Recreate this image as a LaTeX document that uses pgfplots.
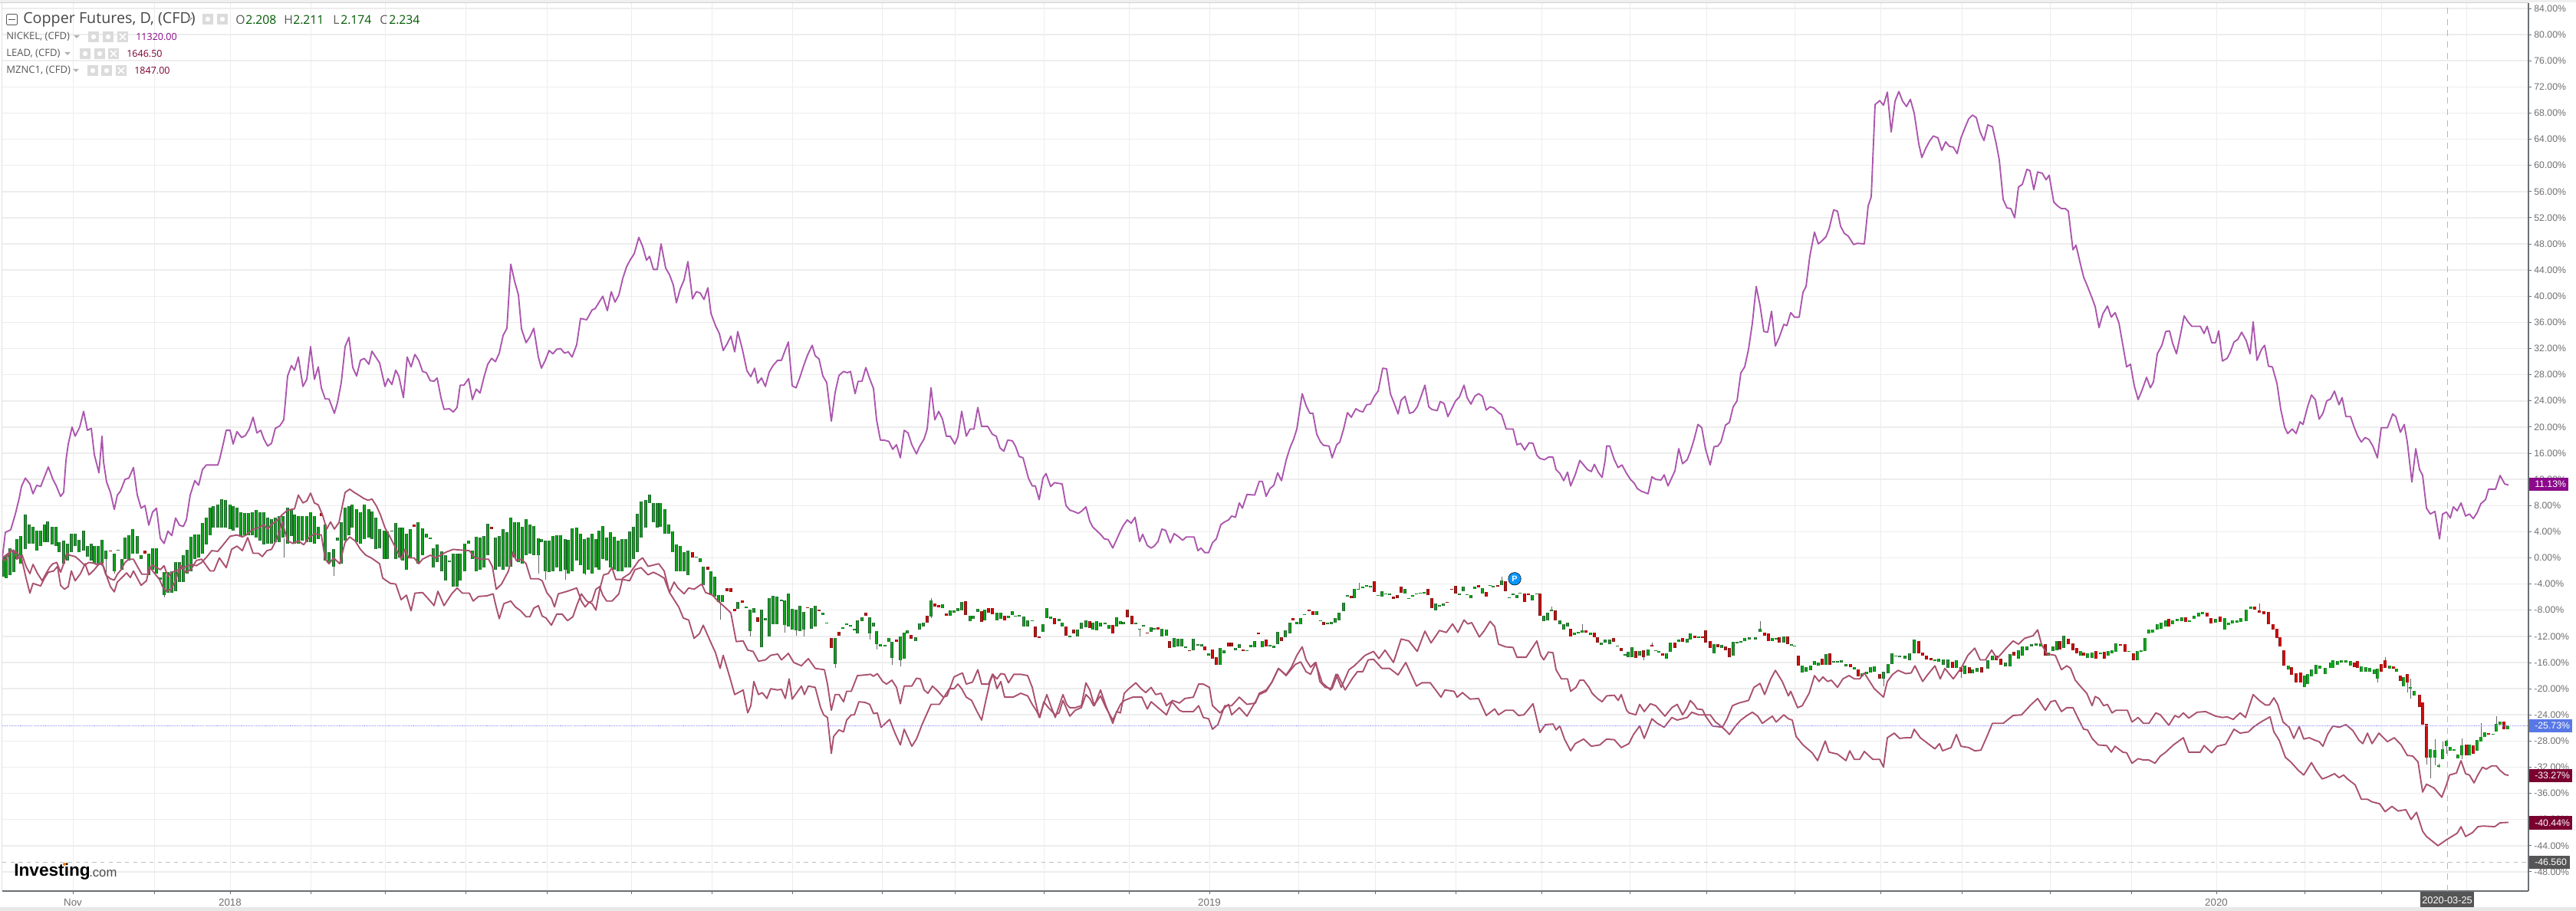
\documentclass[border=0pt]{standalone}
\usepackage{fontspec}
\setmainfont{Liberation Sans}
\newfontfamily\osans{Open Sans}
\usepackage{pgfplots}
\usepackage{pgfplotstable}
\pgfplotsset{compat=1.18}
\definecolor{cnick}{HTML}{AB56AD}
\definecolor{cmar}{HTML}{A9506F}
\definecolor{cgrid}{HTML}{EDEDED}
\definecolor{cgreen}{HTML}{12A51C}
\definecolor{cgreend}{HTML}{1E5F2C}
\definecolor{cred}{HTML}{CC0F0F}
\definecolor{credd}{HTML}{7A1212}
\definecolor{ctick}{HTML}{707070}
\definecolor{cline}{HTML}{6B6F73}
\definecolor{cpin}{HTML}{0A96FF}
\pgfplotstableread{
x y
3 0
7 3.9
14 4.3
20 6.7
25 9.1
28 10.9
33 12.2
39 11.3
43 9.8
48 11.1
53 10.9
58 12.4
63 13.9
69 12
73 11.1
79 9.4
83 10
86 14.9
89 17.4
94 20
98 18.6
104 20
109 22.4
114 19.5
119 19.8
123 15.8
129 13
133 18.6
135 14.7
139 11.6
144 10
149 7.4
153 9.6
157 10.2
163 12
168 12.2
174 13.8
179 9.6
184 7.6
189 8
194 5
199 7
204 7.6
209 3
214 2.2
219 4.1
224 3.4
229 6.1
234 5
239 4.8
243 5.8
248 9.6
254 11.8
259 11.1
264 13.5
269 14.2
284 14.2
286 14.9
291 17.4
295 19.5
300 19.5
304 17.4
309 19.3
315 18.4
320 18.7
325 19.7
330 21.5
335 19.1
340 19.5
344 18.2
349 17.1
354 17.5
359 19.8
365 20.2
370 21.1
375 27.8
380 29.4
384 28.7
389 30.7
395 26.2
400 27.3
405 32.3
410 27.3
415 29.2
419 26
424 24.3
429 24.3
436 22.1
440 23.7
445 26.8
450 32.3
455 33.7
460 29.1
465 27.8
470 30.2
475 30.5
481 29.6
485 31.6
490 30.7
495 29.8
502 26.2
506 27.4
511 26.5
516 28.7
520 27.8
526 24.5
531 30.7
536 29.2
541 31.1
546 30.2
551 28.5
556 28.3
561 27.1
566 27
570 27.5
575 24.5
579 22.7
586 22.8
591 22.3
596 23
600 26.4
605 26.4
611 27.4
616 24.2
621 25.8
626 25.2
631 27.6
636 29.6
641 30.5
646 30
651 31.3
656 34
661 35.1
666 44.9
671 42.3
676 40.2
680 35
686 32.9
691 33.8
696 35.1
702 30.7
706 29
711 30.2
716 31.7
721 31.2
726 31.9
731 32
736 31.3
741 31.5
746 30.7
752 32.6
757 36.6
765 36.4
772 37.9
776 38.1
786 40
792 37.8
797 40.7
802 39.1
807 40.2
812 42.7
817 44.5
822 45.6
827 46.5
833 49
838 47.6
843 45.5
847 46.1
852 44.1
857 44.1
862 48
868 44.3
873 43.3
878 41.7
882 39
887 41.1
892 42.5
897 45.3
903 39.6
908 40.7
913 40.5
918 39.5
923 41.3
927 37.4
933 35.5
938 34.3
943 31.7
948 32.7
953 33.9
958 31.5
962 34.6
968 31.9
974 28.6
979 27.7
984 29
988 26.7
993 27.5
998 26.2
1003 28.4
1008 29.4
1014 30.2
1019 30.2
1023 31.5
1028 33
1033 26.3
1038 26
1043 27.6
1048 29.4
1053 31
1059 32.5
1063 30.9
1068 30.4
1073 27.8
1078 26.8
1084 20.9
1089 25.3
1094 27.9
1100 28.5
1105 28.3
1109 28.5
1115 25.1
1119 27
1124 27
1129 29.1
1134 27.4
1139 25.9
1143 21.1
1148 18
1153 18
1159 17.8
1164 16.6
1169 17.3
1174 15.3
1179 19.5
1184 19.1
1189 17.3
1195 15.9
1199 17
1205 18.2
1209 19.7
1214 26
1219 21.1
1224 22.4
1229 21.2
1234 18.6
1239 18.6
1245 17.4
1249 18.5
1254 22.4
1260 18.6
1265 19.7
1270 19.7
1275 23
1280 20.1
1288 20.1
1294 18.9
1299 18.6
1304 16.8
1309 16.3
1314 18
1320 17.9
1324 17.1
1329 15.5
1334 15.3
1341 12.2
1346 11
1350 11
1355 8.9
1360 12.2
1364 12.9
1370 10.9
1375 11.5
1385 11.3
1390 8
1395 7.3
1400 7.1
1406 6.8
1411 7.2
1416 7.8
1421 5.6
1425 4.7
1435 3.6
1440 2.9
1445 2.8
1451 1.5
1456 2.8
1461 4.1
1465 5
1470 5.8
1475 5.3
1480 6.2
1486 2.5
1490 3.6
1496 1.9
1501 1.5
1505 1.8
1510 2.5
1515 4.4
1520 4.2
1526 2.3
1531 3.7
1536 3.3
1542 2.7
1547 3.2
1557 3.2
1562 1.1
1566 1.5
1571 .8
1576 .8
1581 2.3
1586 2.9
1592 5.1
1597 5.5
1602 5.8
1606 6.4
1611 6.2
1616 8.4
1620 7.6
1626 9.7
1636 9.6
1642 11.7
1646 11.7
1651 9.4
1656 10.6
1661 11.1
1666 13
1671 11.8
1677 14.9
1682 16.8
1687 18.2
1691 19.7
1698 25.1
1703 23.3
1708 22.1
1712 22.1
1717 18.9
1722 17.7
1726 17.2
1733 17.1
1737 15.3
1743 17.3
1747 17.7
1752 19.7
1757 22.2
1762 21.5
1768 22.8
1772 22.5
1777 22.3
1782 23.4
1787 23.5
1792 24.7
1797 25.5
1803 29
1808 28.9
1813 25.1
1818 23.6
1823 22
1827 24.1
1832 24.7
1838 22.1
1843 22.3
1848 23.1
1853 24.7
1858 26.4
1863 23.1
1867 22.7
1874 22.5
1878 23.9
1883 23.6
1888 21.6
1893 22.8
1898 24
1903 24.6
1909 26.4
1913 24.5
1918 23.5
1923 24.7
1928 25.1
1933 24.7
1938 22.6
1943 23.1
1948 22.9
1954 22.2
1958 21.9
1964 19.7
1973 19.7
1978 17.3
1983 17.5
1988 16.5
1994 17.6
1999 17.5
2004 15.7
2008 15.2
2014 15
2019 15.4
2025 15.4
2029 13.5
2034 12.9
2039 11.8
2044 13.1
2048 11
2054 12.7
2060 14.9
2070 13.5
2075 13.2
2079 14.3
2084 13.1
2089 12.3
2093 14.9
2095 17.1
2099 17.1
2105 15
2110 13.8
2115 14.2
2121 12.9
2126 12
2131 11.4
2135 10.6
2140 10.2
2149 9.8
2154 12.4
2159 12
2166 11.9
2170 12.7
2175 11
2184 13.3
2189 16.7
2194 14.4
2200 15
2204 16.2
2209 18.1
2214 20.4
2219 19.9
2224 16.6
2230 14.2
2235 17
2240 17.1
2244 17.7
2250 20.3
2255 20.7
2260 23.1
2265 24
2270 28.3
2275 29.2
2280 31.9
2285 35.9
2290 41.5
2295 38.6
2300 34.6
2305 34.5
2310 37.7
2315 32.4
2320 33.7
2326 35.7
2330 35.5
2335 37.5
2340 36.8
2346 36.8
2351 40.6
2355 41.5
2360 46.2
2366 49.8
2371 48
2376 48.5
2381 49.1
2385 50.3
2391 53.2
2396 53
2400 50.7
2405 49.6
2410 49.2
2417 47.9
2422 48.1
2431 48
2436 53.8
2440 55.2
2445 69.3
2451 69.9
2456 69.2
2461 71.2
2466 65.1
2471 69.8
2476 71.3
2481 69.8
2486 69
2491 70.1
2496 68
2502 63.3
2506 61.2
2511 62.6
2516 63.7
2521 64.5
2527 64.2
2532 62.3
2537 63.6
2542 62.9
2547 62.8
2552 61.8
2557 64.2
2562 65.7
2567 67.1
2572 67.7
2577 67.3
2582 65.1
2587 63.8
2592 66.2
2598 65.9
2603 63.3
2607 60.8
2612 54.8
2617 53.5
2622 53.4
2627 52
2632 56.7
2637 57.1
2643 59.4
2647 59.2
2652 56.3
2657 59
2663 58.8
2668 57.8
2672 58.5
2678 54.4
2683 53.8
2688 53.4
2693 53.4
2697 53
2703 47.1
2707 47.8
2712 45.3
2717 42.9
2722 41.5
2728 39.7
2732 38.4
2737 35.2
2742 37.3
2748 38.5
2753 36.8
2758 37.5
2763 35.9
2769 31.9
2773 29.2
2778 29.6
2783 26.3
2788 24.2
2793 25.6
2799 27.6
2804 26
2808 26.9
2813 31.2
2819 32.5
2824 34.6
2829 34.7
2833 32.8
2838 31.2
2844 34.6
2848 37
2853 36.1
2858 35.4
2869 35.4
2874 34.3
2878 35.4
2884 32.9
2889 32.9
2893 34.7
2898 30.1
2904 30.5
2908 31.4
2913 33
2918 33.4
2923 34.5
2929 33.2
2934 31.2
2938 36.1
2943 30.2
2949 31.9
2953 32.5
2958 29.3
2963 29.2
2969 26.7
2974 22.7
2979 20
2983 19
2989 19.7
2994 19
2999 20.8
3003 20.4
3009 23.1
3014 24.9
3019 24.2
3024 21.2
3029 22.1
3034 24
3039 24.3
3044 25.5
3050 23.4
3054 24.5
3059 21.6
3065 21.6
3069 20.2
3074 18.7
3079 17.7
3084 18.4
3089 18.1
3094 17.1
3100 15.3
3105 19.9
3113 19.9
3120 22
3124 21.6
3130 19.2
3135 20.4
3139 17.7
3145 11.6
3150 16.7
3155 13.5
3159 12.6
3164 7.6
3169 6.7
3175 7.1
3181 2.9
3185 6.7
3190 7
3195 6.1
3199 7.8
3204 7.2
3209 8.4
3215 6.4
3220 6.7
3225 6
3230 6.9
3235 8.3
3241 8.9
3245 10.5
3254 10.5
3260 12.6
3266 11.3
3271 11.13
}\nickel
\pgfplotstableread{
x y
3 0
11 .7
18 1.2
22 -.2
29 .4
34 -1.3
39 -2.4
43 -1
49 -2.4
55 -3.5
60 -2.4
65 -1.4
69 -.9
74 -.7
79 -2.2
83 -.9
87 .7
91 .4
98 .2
104 -.4
110 -1.1
116 -.7
122 -.8
128 -1.1
133 -.7
138 -2.6
144 -3.2
149 -3.4
153 -2.5
158 -1.8
163 -.7
168 -.2
174 -.2
180 -1.5
185 -2.5
193 -2.5
198 -1.1
203 -1.4
209 -1.8
214 -1.2
219 -2.9
224 -2.2
229 -2
239 -1.5
250 -1
256 -1.2
263 -.7
270 .2
276 1.1
284 1
291 2
300 3.3
309 3.5
316 3.2
321 3.5
330 4.4
337 4.6
344 5.1
349 4.4
354 5.1
361 5.7
368 6.6
375 7.3
384 7.5
389 9.6
395 8.4
400 8.7
405 9.9
410 8.4
415 8.1
421 6.4
426 4.4
431 5.5
436 4.4
442 5.4
450 10
456 10.5
462 10
469 9.5
474 9.1
480 8.8
485 9
491 7.9
496 6.6
502 4.6
509 3.1
516 1.5
523 -.2
528 1.3
533 0
540 0
546 -.9
551 -.2
561 .4
568 0
582 .9
591 1.3
600 1.2
612 1.1
619 0
628 -.2
637 -.2
642 -1.3
647 -4.8
654 -4
663 -2
669 .9
673 -.4
680 -.2
686 -.9
692 -3.2
702 -3.2
707 -3.5
713 -5.3
719 -6.2
723 -7.5
728 -5.5
740 -5.1
752 -4.6
758 -6.6
763 -7.5
768 -6.8
772 -6.6
777 -4.8
782 -4.4
786 -5.7
791 -6.6
798 -6.6
807 -5.5
812 -3.1
821 -2.4
833 -.4
838 0
845 -1.3
852 -1.1
859 -.9
866 -2
873 -5.3
879 -3.7
884 -4.6
892 -5.5
898 -4.6
905 -4.8
915 -4
920 -5.3
929 -5.7
936 -6.6
943 -7.3
953 -8.4
960 -12.8
969 -12.7
975 -14.1
982 -14.3
989 -15.8
998 -15.6
1005 -14.9
1014 -14.7
1019 -15.6
1028 -14.6
1035 -16
1045 -16.5
1054 -15.4
1063 -16.9
1075 -17.1
1079 -19.3
1084 -23.3
1089 -20.9
1094 -20.9
1100 -22
1104 -20.4
1110 -20.4
1118 -18
1128 -17.9
1135 -17.8
1139 -18.1
1144 -17.7
1151 -18.9
1156 -19.3
1163 -18.7
1169 -19.8
1174 -22.3
1179 -19.6
1189 -19.6
1195 -18.4
1200 -18.5
1205 -20.2
1210 -20.7
1216 -19.6
1223 -20.4
1230 -21.3
1235 -21.1
1244 -18.2
1251 -17.8
1255 -17.6
1260 -19.3
1268 -19
1275 -17.1
1280 -19.3
1289 -19.3
1294 -17.8
1300 -18.5
1305 -17.7
1310 -17.8
1315 -19.1
1322 -17.8
1331 -17.8
1340 -18
1346 -19.8
1351 -22.4
1355 -24.4
1365 -20.9
1371 -22.9
1376 -24.4
1386 -20.9
1391 -22.4
1395 -22.9
1402 -22.9
1410 -22.6
1416 -19.1
1421 -20.2
1427 -22.6
1435 -20.2
1442 -22.6
1451 -25.3
1456 -23.5
1461 -23.7
1466 -20.7
1472 -20
1481 -19.1
1488 -20
1494 -20.6
1501 -19.8
1507 -20.9
1514 -20.7
1521 -22.6
1529 -21.8
1538 -22.2
1545 -21.5
1556 -21.3
1563 -19.3
1569 -19.3
1577 -19.8
1581 -22.6
1591 -23.7
1597 -22.9
1602 -22.4
1606 -24
1616 -22.9
1626 -24.2
1637 -22
1642 -20.9
1651 -20.4
1659 -18.9
1667 -16.9
1677 -17.9
1684 -16.7
1691 -14.9
1698 -13.6
1703 -15.6
1709 -16.7
1715 -16
1721 -18
1724 -19.1
1735 -20.2
1742 -17.8
1749 -19.8
1759 -17.1
1766 -16.5
1780 -14.9
1791 -14.3
1798 -15.4
1806 -14.1
1817 -16
1827 -12.4
1837 -12.7
1848 -14.3
1858 -11.2
1866 -13
1877 -11.1
1886 -11.4
1894 -10.1
1901 -11.4
1909 -9.5
1914 -10.1
1919 -9.9
1929 -12.1
1935 -11.2
1943 -9.7
1949 -10.5
1954 -13.2
1963 -13.6
1973 -13.7
1978 -15.2
1990 -15.2
2004 -12.7
2009 -14.9
2013 -15.6
2019 -14.4
2025 -14.5
2029 -17.1
2036 -18.5
2044 -18.5
2048 -20.4
2055 -19.8
2060 -18.7
2065 -18.7
2072 -19.8
2076 -20.7
2083 -21.5
2089 -22
2095 -21.1
2105 -21
2110 -21.8
2114 -20.9
2121 -23.3
2124 -23.7
2133 -24
2138 -22.4
2144 -23.5
2152 -22.3
2159 -22.6
2171 -24.2
2180 -22.9
2187 -22.4
2194 -24
2200 -22.9
2204 -21.8
2209 -22.4
2213 -23.1
2220 -23.2
2224 -24.2
2233 -25.7
2246 -25.9
2252 -24.6
2259 -22.6
2267 -22.2
2280 -21.8
2287 -19.8
2295 -19.2
2301 -20.9
2309 -18.5
2315 -17.2
2324 -18.9
2332 -21.1
2335 -20.4
2344 -22.9
2350 -22.6
2359 -20.7
2366 -18
2372 -18.9
2377 -18.2
2383 -18.9
2388 -18.7
2396 -19.8
2403 -18.5
2411 -18
2418 -18.5
2425 -18.5
2431 -17.6
2438 -18.9
2444 -20
2456 -21.3
2461 -18.9
2468 -17.8
2475 -17.2
2485 -17.7
2492 -17.6
2497 -16.5
2507 -18.9
2514 -17.8
2523 -16.5
2530 -18.5
2536 -16.9
2547 -18.5
2558 -16.7
2566 -14.9
2575 -13.8
2582 -15.6
2589 -15.6
2597 -14.1
2604 -15.4
2616 -13.8
2625 -12.7
2632 -13.2
2640 -12.3
2651 -11.9
2657 -11
2662 -13.2
2669 -14.7
2680 -14.9
2688 -17.1
2695 -16.5
2700 -16.9
2706 -18.7
2714 -19.8
2721 -20.7
2728 -22.6
2732 -21.2
2737 -21.5
2743 -22.6
2748 -22.4
2754 -23.7
2759 -23.3
2774 -23.3
2780 -25.1
2788 -24.4
2795 -25.3
2802 -25.3
2811 -23.7
2817 -24
2828 -25.6
2836 -24.1
2841 -24.4
2847 -23.7
2854 -24.5
2865 -23.6
2876 -23.5
2889 -24.2
2898 -24.4
2904 -24.3
2912 -24.7
2921 -23.7
2928 -24.4
2938 -20.9
2946 -21.8
2954 -22.5
2959 -22.5
2965 -21.4
2970 -22.4
2977 -25.1
2985 -25.9
2991 -27.6
2998 -25.8
3004 -27.7
3011 -27.5
3019 -27.9
3024 -28.1
3029 -28.8
3035 -27
3042 -25.7
3050 -25.9
3059 -25.5
3068 -26.4
3076 -27.9
3081 -28.4
3087 -26.8
3093 -28.4
3102 -26.8
3113 -28.1
3122 -27.5
3131 -28.6
3139 -30.2
3146 -30.3
3153 -31.2
3159 -35.8
3164 -34.6
3174 -35.2
3184 -36.6
3190 -34.7
3194 -33.2
3203 -32.9
3209 -31
3215 -33
3220 -33.2
3226 -34.4
3231 -33.2
3237 -32
3242 -32.3
3249 -31.8
3255 -31.8
3260 -32.5
3266 -33.1
3271 -33.27
}\leadline
\pgfplotstableread{
x y
3 -.2
7 -.4
14 1.2
21 .9
28 0
34 -3.1
39 -5.4
43 -3.9
53 -4.3
58 -3.1
63 -2.2
70 -2
75 -1.3
79 -4.2
84 -4.8
89 -4.4
93 -2
98 -3.5
105 -2.4
111 -.9
116 -2.6
123 -1.8
130 -.8
135 -1.3
140 -3.1
144 -4.4
149 -5.2
153 -3.7
160 -2.9
165 -2.3
170 -3
174 -2
179 -3.1
184 -4.2
191 -3.5
195 -1.3
199 -2
208 -3.3
212 -4.4
217 -5.1
223 -4.8
229 -3.5
235 -1.1
242 -2.2
249 -1.8
256 -.4
263 -.2
274 -2
279 -2
286 0
295 -1.5
302 1.3
309 1.8
316 1.1
323 3.1
330 .7
337 .7
342 .2
348 1.1
354 1.3
361 2.9
368 5.5
375 2.6
382 2.2
389 2.6
396 2
403 3.1
410 3.7
419 3.5
424 -.2
429 -.9
435 0
443 -.9
450 2.4
456 3.2
463 2.6
470 1.3
477 .4
484 0
495 -.9
499 -3.1
509 -3.9
516 -4
523 -6.4
530 -5.7
536 -8.1
541 -5.4
551 -5.3
561 -6.6
566 -7.3
571 -5.1
579 -7.3
589 -5.5
596 -4.6
603 -5.4
612 -5.4
617 -6.6
624 -5.9
635 -5.8
643 -5.5
647 -7.5
651 -9.3
657 -7
666 -6.6
672 -7.5
679 -8.1
686 -9
691 -9
696 -7.7
702 -7.3
707 -8.9
712 -9.2
719 -10.3
726 -8.6
733 -8.6
740 -9.6
747 -9
752 -7.3
758 -5.5
765 -6.6
772 -7
777 -8
782 -4.8
787 -2.6
793 -2.4
798 -1.5
803 -3.3
812 -3.3
821 -3.5
828 -1.8
836 -1.5
845 -2.6
852 -2.2
859 -2.6
866 -3.1
873 -5.3
885 -7.5
891 -9.2
898 -9.5
905 -12.3
912 -11.6
917 -10.3
926 -12.7
933 -14.5
939 -16.9
943 -14.9
951 -18
958 -20.9
969 -20.2
975 -23.7
979 -22.6
983 -18.9
989 -20.9
994 -20.6
1000 -21.5
1005 -20
1014 -20.2
1019 -20.1
1024 -21.5
1029 -18.5
1033 -21.6
1045 -19.6
1049 -20.9
1054 -19.6
1063 -19.8
1070 -22.9
1074 -24
1079 -24.4
1084 -29.9
1087 -27.3
1094 -26.3
1100 -26.6
1104 -24.8
1110 -24
1114 -24
1120 -22
1128 -22.1
1134 -22.4
1139 -23.8
1144 -23.7
1149 -25.9
1160 -24.7
1167 -26.8
1174 -28.6
1179 -26.2
1189 -28.8
1195 -27.7
1203 -25.3
1214 -22.4
1225 -22.4
1233 -20.9
1238 -20
1244 -20
1249 -19.3
1254 -20
1260 -21.3
1267 -21.8
1274 -23.5
1280 -24.8
1286 -21.5
1291 -18.9
1295 -17.8
1300 -20
1305 -18.9
1310 -21.3
1321 -21.3
1331 -20.7
1340 -21.1
1346 -22.4
1351 -23.3
1356 -24.4
1361 -22
1367 -22.9
1376 -24
1381 -23.7
1386 -21.8
1395 -24.2
1402 -23.3
1410 -22.9
1416 -20.9
1421 -21.5
1426 -22.6
1435 -21.1
1442 -22.9
1451 -24.8
1461 -22.4
1466 -21.8
1477 -21.3
1489 -21.3
1496 -23.1
1501 -22
1510 -22.9
1521 -24
1528 -22
1538 -23.3
1542 -23.5
1556 -23.5
1563 -22.6
1569 -24.4
1576 -24.6
1581 -26.2
1588 -25.5
1597 -22.6
1606 -22.6
1616 -21.3
1626 -22.4
1637 -22.2
1642 -20.7
1651 -20.2
1658 -19.1
1667 -16.9
1677 -18
1689 -16.3
1696 -15.9
1703 -17.4
1709 -17.8
1716 -16
1721 -18.9
1728 -19.8
1737 -20
1744 -17.8
1754 -20.2
1763 -18.5
1770 -17.4
1777 -17.4
1784 -15.6
1791 -15.5
1802 -16.9
1812 -16.9
1823 -17.9
1833 -16
1840 -17.8
1847 -19.6
1854 -19.1
1865 -19.1
1879 -21.3
1884 -20.2
1896 -20.4
1900 -21.3
1907 -20.6
1917 -21.6
1928 -21.5
1938 -24.1
1949 -23.1
1954 -24
1963 -23.3
1973 -23.3
1980 -24.1
1987 -24
1999 -22.3
2008 -26.7
2015 -25.5
2025 -25.4
2029 -26.3
2034 -25.7
2040 -27.7
2048 -29.5
2054 -28.4
2065 -27.7
2075 -28.8
2086 -28.6
2095 -27.7
2105 -27.8
2114 -29
2124 -28.4
2130 -27
2138 -25.7
2144 -27.6
2154 -24.6
2161 -25.3
2170 -25.9
2180 -24.4
2187 -24.8
2200 -24.4
2206 -23.6
2215 -24
2230 -24
2237 -25.1
2244 -25.7
2252 -26.6
2255 -27
2263 -25.7
2270 -24.8
2278 -24.1
2285 -23.6
2292 -24.2
2298 -25.3
2311 -24.2
2316 -25.1
2326 -24
2332 -24.6
2337 -24.8
2342 -27.3
2351 -28.6
2363 -29.8
2370 -31
2380 -28
2385 -29.7
2396 -30
2407 -31
2412 -29.5
2418 -30.8
2425 -30.8
2431 -29.6
2442 -30.8
2451 -30.8
2456 -32
2461 -27.5
2470 -26.8
2477 -27.6
2485 -27.5
2492 -27.5
2496 -26.2
2504 -27.5
2514 -28.4
2523 -29.2
2529 -28.4
2533 -29.5
2544 -29
2551 -27
2557 -28.8
2567 -29
2575 -29.5
2583 -29.4
2592 -27
2598 -25.3
2612 -25.3
2625 -24.1
2636 -24
2647 -22.6
2657 -21.5
2667 -23.3
2674 -22
2680 -21.8
2688 -23.5
2695 -22.9
2703 -22.9
2710 -24.6
2717 -26.2
2722 -26.3
2728 -27.6
2736 -28.6
2747 -28.7
2753 -29.7
2758 -28.8
2768 -29.7
2773 -29.8
2780 -31.4
2788 -30.7
2795 -30.9
2802 -30.9
2810 -31.4
2817 -30.3
2824 -29.7
2834 -28.6
2847 -27.5
2854 -29.7
2869 -29.7
2874 -28.7
2884 -29.8
2891 -28.8
2902 -28.5
2913 -26.2
2921 -26.8
2932 -26.6
2938 -25.9
2948 -25.1
2960 -24.3
2965 -26.6
2972 -27.9
2980 -30.5
2987 -31.2
2997 -32.5
3004 -33.2
3014 -31.3
3020 -32.5
3028 -33.8
3035 -33.5
3044 -33
3050 -33.6
3056 -33.2
3061 -33.8
3071 -34.7
3079 -36.9
3087 -36.9
3093 -37.3
3103 -37.6
3110 -38.8
3119 -38
3127 -38.7
3137 -38.5
3144 -40
3151 -38.9
3159 -41.8
3164 -42.6
3179 -44
3190 -43.1
3204 -42.1
3209 -41.1
3215 -42.6
3224 -42
3231 -41.1
3238 -41
3253 -41.1
3260 -40.5
3271 -40.44
}\zincline
\pgfplotstableread{
x lo hi
5 -2.9 0
8 -3.1 .4
13 -2.6 1.5
18 -2.2 1.1
22 -.2 2.9
27 -.9 3.3
33 1.3 6.6
38 2.2 5.1
43 2.2 4.8
48 1.1 4.2
53 1.8 4.2
58 2.4 5.1
62 2.4 5.6
68 2 4.8
73 1.8 4.8
77 .9 2.4
83 -.9 2.6
88 -.4 2.2
93 .9 3.7
98 1.8 3.7
103 .9 2.7
109 1.1 4.2
114 .2 1.8
119 -.4 2.2
123 -.9 1.8
128 -.9 1.8
133 -.9 2.7
138 -.2 1.1
149 -2 .7
154 1.1 1.2
159 -1.8 -.2
163 -.2 3.1
168 -.4 3.4
173 .7 4.4
179 .7 3.3
184 -.2 .4
194 -2.6 .7
199 -1.8 1.5
204 -2.4 1.5
209 -3.3 -3
214 -5.7 -2.2
219 -5.3 -2.2
224 -5.3 -2
229 -5.1 -.7
234 -3.7 -.7
239 -3.7 .4
244 -2.4 1.2
249 -2 3.2
254 -.2 3.6
259 0 3.6
264 .7 5.3
269 2 6.2
274 3.5 7.7
278 4.6 7.9
284 4.6 8.1
289 4.6 9
294 4.6 8.8
300 4.4 8.1
304 4.2 7.9
309 4.6 7.7
314 3.3 7
319 3.5 6.8
324 3.5 6.8
329 3.5 7
334 3.1 7.3
339 2.6 7
344 2 7
349 2.2 6.2
354 2.2 5.9
359 2.4 6.2
364 2.4 6.4
369 3.1 6.4
375 2.2 7.7
380 3.3 7.3
384 2.2 6.6
389 2.2 6.4
394 2.6 6.4
400 2.4 6.4
405 2.4 7
410 2.2 6.4
415 2.9 4.8
424 -.4 5.1
429 -.9 .9
435 -1.3 1.3
440 2.6 3.1
445 -.9 5.4
450 2.6 7.7
455 3.5 7.9
459 4.6 8.1
465 2.4 7.5
470 2.2 7
475 2.9 8.1
481 3.1 7.5
485 2.9 7.1
490 1.3 6.2
495 1.5 4.4
501 -.2 4.2
505 -.2 4
511 4 4.2
516 -.2 5.3
521 0 4.6
525 -.4 4.6
530 -1.8 3.7
535 0 4.4
545 -.9 5.4
551 .4 4.5
556 3.1 3.7
561 2.9 3.1
565 -1.5 1.5
570 -.7 2.1
576 -2 1
581 -3.5 .4
586 -.6 -.4
591 -4.4 .7
596 -4.4 .7
600 -3.5 .7
606 -2 2.2
611 2.2 2.6
616 -.2 1.1
621 -2 3.2
626 -1.8 3.1
631 -1.5 3.3
636 .4 5.2
646 -1.8 3.1
651 -1.3 3.3
656 -1.8 4.4
661 -1.3 3.9
666 -1.3 6.2
671 0 5.5
676 -.7 5.5
681 -.9 4.8
686 .4 5.9
691 .7 5.1
696 .4 4.9
702 .4 3
706 2.4 2.9
711 -2 2.6
716 -2.2 2.6
721 -2 3.3
726 -1.5 3.4
731 -2 3.4
737 -1.8 2.9
741 -2.4 2.7
746 -2 4.5
752 -.4 4.6
757 -1.1 3.7
762 -2.4 2.9
767 -1.8 3.1
772 -2.4 3.7
777 -1.5 2.9
781 -1.8 4.2
786 -.2 4.9
791 -.4 3.1
796 -1.5 3.9
801 -1.8 3.2
806 -2 2.6
811 -2 2.9
816 -1.5 2.9
821 -1.5 4
826 -.2 4.7
831 .9 6.7
836 3.1 8.6
842 4.6 8.8
847 8.4 9.7
852 5.5 8.4
857 4.6 8.4
861 4.8 8.4
867 3.7 7.5
872 3.7 5.1
877 .9 4
882 -2 2.1
887 -2.1 1.8
892 -2.1 .9
897 -2.6 1.1
908 0 .2
913 -.7 -.1
917 -4.2 -1.3
927 -5.7 -2.1
932 -5.9 -2.9
937 -6.8 -5.7
942 -6.7 -5.7
962 -7.8 -6.8
973 -7.7 -7.5
978 -11.2 -7.9
983 -8.4 -7.7
993 -13.7 -7.9
998 -9.5 -9.2
1003 -12 -6.2
1008 -10.2 -5.8
1013 -10.1 -5.9
1019 -6.6 -6.4
1023 -10.3 -6.5
1028 -10.5 -5.5
1033 -11 -7.8
1038 -11.1 -7.9
1043 -11.2 -7.3
1048 -11 -8.3
1058 -10.8 -7.7
1063 -10.5 -7.3
1073 -8.7 -8.4
1078 -10 -9.9
1089 -16.2 -12.3
1099 -10.8 -10.6
1104 -10.3 -10
1109 -10.5 -10.3
1114 -11.1 -10.8
1118 -11.6 -9.6
1124 -9.7 -9.1
1134 -11.6 -9.1
1139 -10.5 -9.9
1143 -13.2 -11.2
1148 -13.5 -13.2
1154 -13.5 -13.3
1159 -12.8 -12.3
1163 -15.3 -12.8
1174 -15.6 -12
1179 -15.4 -11.4
1183 -11.6 -11.1
1194 -12.7 -12.1
1199 -11 -10
1204 -10.5 -9.9
1214 -9 -6.5
1229 -7.7 -7.1
1239 -8.8 -8
1244 -8.4 -8
1249 -8.1 -7.7
1254 -8 -6.7
1265 -9.7 -8.8
1269 -9.3 -8.8
1275 -8.3 -7.8
1284 -9.5 -7.9
1300 -9.5 -8.4
1305 -9.3 -8.4
1315 -9.2 -8.8
1320 -8.7 -8.1
1324 -9 -8.8
1329 -9 -8.7
1335 -10.5 -9
1340 -10.5 -9.6
1346 -9.6 -9.5
1360 -11.3 -10.2
1365 -9.2 -7.7
1370 -9.3 -9
1381 -9.7 -9.3
1385 -10.5 -9.9
1395 -12.1 -11.9
1405 -12 -11
1410 -10.9 -9.9
1416 -10.6 -9.5
1425 -11 -9.9
1430 -11.1 -9.7
1435 -10.5 -9.9
1441 -10.2 -9.9
1446 -10.9 -10.3
1456 -10.5 -9.1
1461 -10.2 -9.7
1465 -10.2 -9.8
1481 -10.2 -9.9
1486 -11 -10.8
1491 -10.5 -10.3
1501 -11.3 -10.6
1505 -11 -10.7
1515 -12 -10.8
1521 -11.9 -11
1531 -13.7 -12.3
1536 -13.6 -12.4
1541 -13.6 -12.4
1546 -13.8 -13.6
1556 -14.1 -12.4
1562 -13.4 -13.2
1567 -13.6 -13.2
1576 -14.9 -14.6
1591 -16.3 -13.8
1596 -14.6 -14.1
1611 -14.1 -13.8
1616 -13.8 -13.2
1626 -14.3 -14.1
1631 -13.7 -13.3
1636 -13.7 -12.7
1646 -13.7 -12.7
1656 -13.5 -13.3
1661 -13.8 -13.4
1666 -13.2 -11.3
1676 -12.1 -11.1
1682 -11.5 -9.9
1691 -10.1 -9.8
1696 -10.1 -9.2
1701 -8.7 -8.6
1717 -8.7 -8.1
1722 -9.7 -9.5
1731 -10.1 -9.9
1736 -10.1 -9.8
1741 -9.9 -9.2
1746 -9.5 -8.4
1752 -8.1 -6.9
1757 -5.9 -5.7
1766 -6.2 -4.7
1771 -4.9 -4.7
1777 -4.6 -4.4
1782 -4.4 -4.2
1787 -4.5 -4.3
1797 -5.8 -5.7
1802 -5.9 -5.1
1807 -5.5 -5.4
1812 -5.7 -5.5
1832 -5.4 -4.8
1837 -6.3 -6.2
1842 -5.9 -5.7
1847 -5.6 -5.5
1852 -5.5 -5.3
1857 -5.5 -5.2
1872 -8 -7
1877 -7.4 -7.2
1882 -7.3 -7
1903 -5.7 -5.5
1908 -5.1 -4.4
1913 -5.7 -5.6
1918 -6.2 -5.7
1923 -4.7 -4.4
1933 -5.4 -4.6
1943 -4.3 -4.2
1947 -4.5 -4.3
1958 -4.2 -3.5
1968 -6.2 -6
1973 -5.7 -5.5
1978 -6.1 -5.7
1982 -5.4 -5.3
1998 -6.5 -5.7
2004 -5.5 -5.4
2013 -9.7 -8.8
2018 -9.5 -8.4
2023 -8.1 -7.9
2034 -10.1 -9.5
2039 -11 -10.1
2044 -10.5 -9.9
2053 -11.8 -11.4
2058 -11.6 -11.3
2063 -11.4 -11.1
2074 -11.8 -11.4
2088 -13.3 -13
2093 -13 -12.5
2099 -13.2 -12.5
2109 -13.6 -13.4
2119 -14.9 -14.7
2123 -15.2 -14.4
2128 -15.2 -13.7
2138 -14.9 -14.2
2149 -14.9 -14
2159 -14.3 -14.1
2163 -14.5 -14.2
2173 -15.4 -14.6
2178 -14.4 -13
2189 -12.8 -12.5
2200 -13 -12.4
2204 -12.5 -11.6
2215 -12.3 -12
2235 -14.6 -13.2
2245 -13.8 -13.3
2260 -14.9 -12.8
2265 -13.1 -12.8
2270 -13 -12.7
2275 -12.7 -12.3
2281 -12.5 -12.1
2289 -12.5 -12.1
2295 -11.3 -10.9
2311 -12.7 -12.2
2316 -12.5 -12.2
2326 -13 -12
2336 -13.4 -13.2
2340 -13.6 -13.4
2350 -17.5 -16.5
2355 -17.4 -16.7
2361 -17.2 -16.5
2366 -16.4 -15.8
2371 -16.5 -16
2381 -16.4 -14.7
2391 -16 -15.8
2396 -16 -15.8
2401 -16 -15.7
2407 -16.6 -16.2
2418 -17.1 -16.7
2428 -18.1 -17.6
2434 -17.8 -17.4
2439 -17.5 -16.7
2444 -17.4 -16.6
2456 -18.5 -17.4
2462 -17.7 -16.2
2467 -16.2 -14.6
2472 -15 -14.9
2477 -15.2 -14.9
2484 -15.4 -15
2490 -15.6 -14.6
2496 -14.6 -12.5
2523 -15.8 -15.5
2528 -15.9 -15.4
2534 -16.4 -15.5
2540 -16.8 -15.5
2551 -16.8 -15.7
2562 -17.8 -16.5
2572 -17.7 -17.1
2578 -17.4 -16.8
2592 -16.9 -15.6
2598 -15.7 -14.9
2615 -16.6 -16
2621 -16.6 -14.7
2632 -15.4 -14.1
2637 -15 -13.6
2643 -14.1 -13.6
2649 -13.5 -13.2
2655 -13.4 -13.1
2661 -13.5 -13.1
2671 -14.9 -14.5
2677 -14.2 -13.6
2682 -14.1 -12.7
2691 -13.8 -11.9
2713 -15 -14.3
2722 -15.3 -14.6
2728 -15.3 -14.5
2739 -14.7 -14.5
2749 -14.9 -14.3
2754 -14.6 -14.1
2759 -14.4 -13.1
2776 -14.4 -14.3
2787 -15.6 -14.3
2792 -14.4 -14.1
2797 -14.2 -12.2
2802 -11.6 -11
2807 -11.4 -11
2813 -11 -10.1
2818 -10.8 -9.9
2824 -10.5 -9.5
2833 -10.2 -9.5
2839 -9.7 -9.3
2845 -9.7 -9.1
2855 -9.8 -9.5
2861 -9.3 -8.8
2867 -9 -8.4
2872 -8.6 -8.3
2889 -9.9 -9.3
2901 -11 -9.2
2906 -10.3 -9.9
2911 -10 -9.5
2917 -9.9 -9.5
2922 -9.8 -9.2
2929 -9.7 -7.9
2935 -7.8 -7.5
2984 -17.1 -16.5
3005 -19.8 -18
3009 -19.3 -17.8
3014 -18.1 -17.1
3020 -17.8 -16.4
3025 -16.9 -16.5
3032 -17.8 -16.8
3039 -16.8 -16
3042 -16.8 -15.6
3048 -16.3 -15.8
3053 -16 -15.6
3059 -16 -15.7
3065 -16.5 -15.8
3079 -17.4 -16.6
3085 -17.4 -16.7
3090 -17.4 -16.8
3096 -17.8 -17.1
3100 -18.5 -16.9
3116 -16.9 -16.5
3125 -17.4 -16.9
3134 -19.6 -18.2
3143 -20 -19.8
3148 -21 -20.3
3169 -30.5 -29.2
3175 -30.5 -29.4
3180 -31.9 -31.7
3185 -30.8 -29.2
3190 -28.8 -28
3195 -29.5 -28.9
3200 -29.5 -29.2
3205 -30.6 -30.1
3210 -30.2 -28.7
3220 -30.2 -28.6
3230 -29.5 -27.9
3235 -28.1 -27.4
3240 -27.4 -26.7
3251 -27 -26.9
3255 -26.6 -25.4
3260 -25.5 -25
3270 -26.2 -25.6
}\greenbars
\pgfplotstableread{
x lo hi
144 1 1.1
189 .7 1.1
419 6.4 6.8
540 4.7 5.1
641 4.4 4.7
903 0 .9
923 -1.8 -1.3
948 -5.1 -4.6
953 -5.2 -4.6
958 -8.1 -7.8
968 -6.9 -6.5
988 -9.8 -9.1
1053 -7.7 -7.6
1068 -8.1 -7.9
1084 -13.8 -12.3
1094 -11.9 -11.3
1129 -8.8 -8.4
1169 -12.8 -12.5
1188 -12.4 -11.8
1209 -9.9 -8.9
1219 -7.5 -7
1224 -7.6 -7.2
1234 -8.8 -8.5
1259 -8.7 -6.6
1280 -9.8 -8.1
1289 -8.4 -7.7
1294 -8.6 -7.7
1310 -9.5 -8.9
1350 -12.1 -10.5
1355 -12.2 -12
1375 -10.2 -9.2
1390 -11.9 -10.5
1400 -11.5 -11
1421 -10.7 -9.7
1451 -11.6 -10.3
1470 -9.1 -7.9
1476 -10.1 -8.8
1496 -11.6 -11.4
1510 -11 -10.6
1525 -13.8 -12.7
1551 -14.3 -14.1
1571 -14.1 -13.6
1581 -15.4 -14
1586 -16.4 -15.2
1602 -13.5 -13
1606 -13.6 -13
1621 -14.3 -14
1641 -11.7 -11.4
1651 -13.6 -12.5
1671 -12.7 -12.1
1686 -9.5 -9.2
1707 -8.2 -7.9
1712 -8.7 -8.1
1726 -10.3 -9.8
1762 -6.2 -5.8
1792 -5.2 -3.6
1817 -6.3 -5.9
1822 -6.2 -5.7
1827 -5.3 -4.4
1862 -5.7 -4.8
1867 -7.7 -6.1
1887 -6.8 -6.7
1893 -4.9 -4.7
1898 -5.4 -4.3
1928 -4.5 -4.2
1938 -5.9 -5.2
1953 -4.4 -4.2
1963 -5.1 -3.6
1988 -6.8 -5.5
1993 -5.7 -5.5
2008 -8.9 -5.4
2028 -9.5 -8
2048 -12 -10.9
2068 -11.4 -11.1
2079 -12.1 -11.4
2083 -13 -12.1
2104 -12.8 -12.2
2114 -14.2 -13.8
2133 -15.3 -14.3
2143 -15.2 -14.1
2154 -13.6 -13.3
2168 -14.9 -14.6
2184 -13.8 -13
2194 -12.8 -12.3
2210 -12.3 -11.9
2220 -12.2 -12
2224 -13 -11.1
2230 -13.8 -12.7
2240 -13.7 -13.2
2250 -14.1 -13.5
2255 -15.2 -13.8
2301 -11.9 -11.4
2306 -12.7 -11.6
2320 -13 -12.1
2331 -13.2 -12
2345 -16.5 -14.9
2376 -16.4 -15.4
2386 -16.4 -14.6
2413 -16.7 -16.2
2423 -18.1 -17.1
2451 -18.5 -17.8
2502 -14.6 -12.7
2507 -14.9 -14.5
2512 -15.5 -14.9
2518 -15.7 -15.3
2546 -16.8 -15.9
2557 -17.4 -16.7
2568 -17.6 -16.7
2584 -17.5 -16.7
2603 -15.6 -14.9
2609 -16.4 -15.4
2626 -15 -14.4
2667 -14.9 -13.2
2686 -14 -12.7
2697 -13.2 -12.4
2703 -14.1 -13.1
2708 -14.6 -13.8
2717 -14.9 -14.5
2733 -15.4 -14.2
2744 -15.4 -14.4
2765 -13.4 -13.2
2771 -14.4 -13.2
2782 -15.6 -14.6
2828 -10.5 -9.3
2850 -9.8 -9.1
2878 -9 -8.4
2883 -10 -9.2
2895 -9.8 -9
2940 -7.9 -7.5
2946 -8.4 -8
2952 -8.6 -8.1
2958 -10.2 -8.3
2964 -11 -10.2
2969 -12.2 -10.9
2973 -13.6 -12.1
2978 -16.5 -14.1
2988 -17.9 -16.7
2994 -19 -17.6
3000 -19.1 -17.5
3070 -16.7 -16
3074 -16.8 -15.8
3105 -17.4 -16.2
3110 -16.8 -15.6
3121 -16.9 -16.6
3130 -18.8 -18
3139 -19 -17.8
3155 -22.8 -20.9
3159 -25.5 -22.1
3164 -30.5 -25.4
3216 -30.2 -28.6
3225 -29.9 -28.7
3245 -27 -26.8
3265 -26.2 -25
}\redbars
\pgfplotstableread{
x lo hi
138 -2.4 -.2
149 -2.4 .7
214 -6 -2.2
370 0 3
435 -2.7 -1.3
702 -2.4 .4
711 -3.3 -2
737 -3.3 -1.8
763 -2.6 -2.4
939 -9.4 -6.8
978 -12 -11.2
1023 -11.4 -10.3
1038 -11.9 -11.1
1048 -12 -11
1089 -16.8 -16.2
1134 -12.5 -11.6
1143 -14 -13
1163 -16.4 -15.3
1174 -16.6 -15.6
1214 -9.2 -6.2
1486 -12 -11
1772 -4.7 -3.8
1958 -3.5 -2.9
2023 -7.9 -7.5
2063 -11.1 -10.1
2154 -13.6 -13
2143 -15.7 -15.2
2295 -10.9 -9.7
2456 -19.6 -18.5
2557 -18.4 -17.4
2946 -8 -7
3110 -15.6 -15.2
3100 -19.1 -18.5
3139 -20.6 -19
3143 -21.5 -18.5
3164 -31.6 -25.4
3169 -33.7 -30.5
3175 -31.7 -27.7
3180 -32.1 -31.5
3185 -30.8 -28.1
3190 -30 -27.8
3210 -30.8 -27.6
3235 -28.1 -25.3
3255 -26.6 -24.2
}\wicks
\begin{document}
\begin{tikzpicture}
\useasboundingbox (0,0) rectangle (2519.25pt,891pt);
\fill[white] (0,0) rectangle (2519.25pt,891pt);
\begin{axis}[
  at={(2.25pt,19.5pt)},anchor=south west,scale only axis,
  width=2470.5pt,height=868.5pt,
  xmin=3,xmax=3297,ymin=-50.94,ymax=84.82,
  axis x line=bottom,axis y line=right,
  axis line style={-,draw=cline,line width=.9pt},
  xtick={95,201,300,405,502,607,713,823,928,1033,1150,1245,1361,1472,1577,1693,1793,1898,2010,2125,2225,2340,2452,2558,2673,2779,2890,3005,3105,3216},
  xticklabels={Nov,,2018,,,,,,,,,,,,2019,,,,,,,,,,,,2020,,,},
  ytick={-48,-44,...,84},
  yticklabel={\pgfmathprintnumber[fixed,fixed zerofill,precision=2,assume math mode=true]{\tick}\%},
  xmajorgrids,ymajorgrids,
  x grid style={draw=cgrid,line width=.7pt},
  y grid style={draw=cgrid,line width=1.1pt},
  tick style={draw=cline,line width=.7pt},
  major tick length=3pt,
  tick align=outside,
  xticklabel style={font=\fontsize{10pt}{12pt}\selectfont,text=ctick,yshift=-1pt},
  yticklabel style={font=\fontsize{9.2pt}{11pt}\selectfont,text=ctick,xshift=-1pt},
  clip=true,
]
\addplot[cgrid!80!black,dashed,line width=.7pt,forget plot,dash pattern=on 4pt off 4pt] coordinates {(3,-46.56) (3297,-46.56)};
\addplot[black!28,line width=.7pt,forget plot,dash pattern=on 6pt off 5pt] coordinates {(3191,-50.94) (3191,84.82)};
\addplot[draw=none,no markers,forget plot,error bars/.cd,y dir=plus,y explicit,error mark=none,error bar style={draw=black!60,solid,line width=.6pt}] table[x=x,y=lo,y error plus expr=\thisrow{hi}-\thisrow{lo}] {\wicks};
\addplot[draw=none,no markers,forget plot,error bars/.cd,y dir=plus,y explicit,error mark=none,error bar style={draw=cgreend,solid,line width=3.3pt}] table[x=x,y=lo,y error plus expr=\thisrow{hi}-\thisrow{lo}] {\greenbars};
\addplot[draw=none,no markers,forget plot,error bars/.cd,y dir=plus,y explicit,error mark=none,error bar style={draw=cgreen,solid,line width=2.2pt}] table[x=x,y=lo,y error plus expr=\thisrow{hi}-\thisrow{lo}] {\greenbars};
\addplot[draw=none,no markers,forget plot,error bars/.cd,y dir=plus,y explicit,error mark=none,error bar style={draw=credd,solid,line width=3.3pt}] table[x=x,y=lo,y error plus expr=\thisrow{hi}-\thisrow{lo}] {\redbars};
\addplot[draw=none,no markers,forget plot,error bars/.cd,y dir=plus,y explicit,error mark=none,error bar style={draw=cred,solid,line width=2.2pt}] table[x=x,y=lo,y error plus expr=\thisrow{hi}-\thisrow{lo}] {\redbars};
\addplot[cmar,line width=1.4pt,line join=round,forget plot] table[x=x,y=y] {\leadline};
\addplot[cmar,line width=1.4pt,line join=round,forget plot] table[x=x,y=y] {\zincline};
\addplot[cnick,line width=1.4pt,line join=round,forget plot] table[x=x,y=y] {\nickel};
\addplot[draw=blue!45!white,line width=.8pt,dash pattern=on .8pt off .8pt,forget plot] coordinates {(3,-25.73) (3297,-25.73)};
\addplot[only marks,mark=*,mark size=6.2pt,mark options={draw=none,fill=cpin},forget plot] coordinates {(1975,-3.2)};
\end{axis}
\begin{scope}[x=.75pt,y=-.75pt,yshift=891pt]
\node[text=white,inner sep=0,font=\bfseries\fontsize{8pt}{9pt}\selectfont] at (1975,755) {P};
\fill[black!6] (0,0) rectangle (3359,3);
\draw[black!18,line width=.6pt] (0,3.5) -- (3297,3.5);
\fill[black!9] (0,1183) rectangle (3359,1188);
\draw[black!12,line width=.7pt] (2.5,4) -- (2.5,1162);
\def\tag#1#2#3#4#5{\fill[#1] (3298,#2) rectangle (#3,#4);\node[anchor=west,inner sep=0,text=white,font=\fontsize{9.2pt}{11pt}\selectfont] at (3305,{(#2+#4)/2}) {#5};}
\definecolor{tpurple}{HTML}{8A0A8A}
\definecolor{tmar}{HTML}{7A0030}
\definecolor{tblue}{HTML}{5878E6}
\definecolor{tgray}{HTML}{555555}
\tag{tpurple}{623}{3349}{640}{11.13\%}
\tag{tblue}{938}{3354}{955}{-25.73\%}
\tag{tmar}{1003}{3354}{1020}{-33.27\%}
\tag{tmar}{1064}{3354}{1082}{-40.44\%}
\tag{tgray}{1116}{3351}{1133}{-46.560}
\fill[tgray] (3156,1163) rectangle (3226,1183);
\node[text=white,inner sep=0,font=\fontsize{9.6pt}{11pt}\selectfont] at (3191,1174) {2020-03-25};
% legend
\def\btn#1#2{\fill[black!14] (#1,#2) rectangle ++(14,14);\fill[white] (#1+7,#2+7) circle (3.2);}
\def\btx#1#2{\fill[black!14] (#1,#2) rectangle ++(14,14);\draw[white,line width=1.1pt] (#1+3,#2+3) -- (#1+11,#2+11) (#1+11,#2+3) -- (#1+3,#2+11);}
\def\tri#1#2{\fill[black!30] (#1,#2) -- ++(8,0) -- ++(-4,4) -- cycle;}
\draw[black!65,rounded corners=1pt,line width=.6pt] (8.5,18.5) rectangle (22.5,32.5);
\draw[black!65,line width=.6pt] (11,25.5) -- (20,25.5);
\node[anchor=west,inner sep=0,text=black!72,font=\osans\fontsize{14.8pt}{16pt}\selectfont] at (30,26) {Copper Futures, D, (CFD)};
\tri{244}{23}
\btn{264}{18}\btn{283}{18}
\node[anchor=west,inner sep=0,text=black!65,font=\osans\fontsize{11.8pt}{14pt}\selectfont] at (307,26) {O};
\node[anchor=west,inner sep=0,text=green!35!black,font=\osans\fontsize{11.8pt}{14pt}\selectfont] at (320,26) {2.208};
\node[anchor=west,inner sep=0,text=black!65,font=\osans\fontsize{11.8pt}{14pt}\selectfont] at (370,26) {H};
\node[anchor=west,inner sep=0,text=green!35!black,font=\osans\fontsize{11.8pt}{14pt}\selectfont] at (382,26) {2.211};
\node[anchor=west,inner sep=0,text=black!65,font=\osans\fontsize{11.8pt}{14pt}\selectfont] at (434,26) {L};
\node[anchor=west,inner sep=0,text=green!35!black,font=\osans\fontsize{11.8pt}{14pt}\selectfont] at (444,26) {2.174};
\node[anchor=west,inner sep=0,text=black!65,font=\osans\fontsize{11.8pt}{14pt}\selectfont] at (495,26) {C};
\node[anchor=west,inner sep=0,text=green!35!black,font=\osans\fontsize{11.8pt}{14pt}\selectfont] at (507,26) {2.234};
\node[anchor=west,inner sep=0,text=black!65,font=\osans\fontsize{9.8pt}{11pt}\selectfont] at (8,48) {NICKEL, (CFD)};
\tri{96}{46}\btn{115}{41}\btn{134}{41}\btx{153}{41}
\node[anchor=west,inner sep=0,text=tpurple,font=\osans\fontsize{9.4pt}{11pt}\selectfont] at (177,48) {11320.00};
\node[anchor=west,inner sep=0,text=black!65,font=\osans\fontsize{9.8pt}{11pt}\selectfont] at (8,70) {LEAD, (CFD)};
\tri{84}{68}\btn{104}{63}\btn{123}{63}\btx{141}{63}
\node[anchor=west,inner sep=0,text=tmar,font=\osans\fontsize{9.4pt}{11pt}\selectfont] at (165,70) {1646.50};
\node[anchor=west,inner sep=0,text=black!65,font=\osans\fontsize{9.8pt}{11pt}\selectfont] at (8,92) {MZNC1, (CFD)};
\tri{95}{90}\btn{114}{85}\btn{132}{85}\btx{151}{85}
\node[anchor=west,inner sep=0,text=tmar,font=\osans\fontsize{9.4pt}{11pt}\selectfont] at (175,92) {1847.00};
% logo
\node[anchor=west,inner sep=0,text=black,font=\bfseries\fontsize{17pt}{18pt}\selectfont] at (18,1137) {Investing};
\node[anchor=west,inner sep=0,text=black!70,font=\fontsize{12.5pt}{14pt}\selectfont] at (116,1139) {.com};
\fill[orange] (84,1127) circle (2);
\end{scope}
\end{tikzpicture}
\end{document}
